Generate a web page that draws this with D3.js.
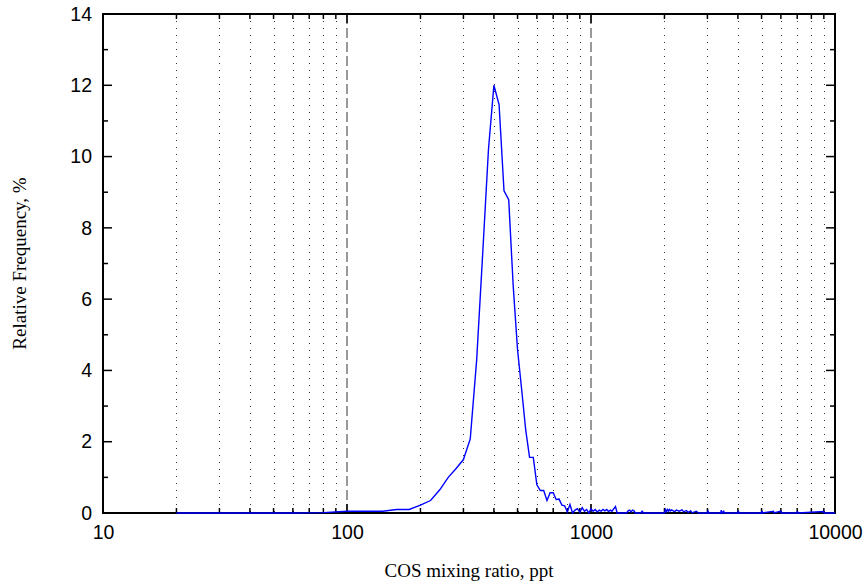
<!DOCTYPE html>
<html>
<head>
<meta charset="utf-8">
<script src="https://cdn.jsdelivr.net/npm/d3@7"></script>
<style>
body { margin: 0; background: #fff; }
svg { display: block; }
</style>
</head>
<body>
<svg width="866" height="584"></svg>
<script>
// COS mixing ratio (ppt), bin positions
var ppt = [20, 40, 60, 80, 100, 120, 140, 160, 180, 200,
  220, 240, 260, 280, 300, 320, 340, 360, 380, 400,
  420, 440, 460, 480, 500, 520, 540, 560, 580, 600,
  620, 640, 660, 680, 700, 720, 740, 760, 780, 800,
  820, 840, 860, 880, 900, 920, 940, 960, 980, 1000,
  1020, 1040, 1060, 1080, 1100, 1120, 1140, 1160, 1180, 1200,
  1220, 1240, 1260, 1280, 1400, 1420, 1440, 1460, 1480, 1500,
  1520, 1600, 1620, 1640, 2000, 2020, 2040, 2060, 2080, 2100,
  2120, 2140, 2200, 2240, 2300, 2360, 2400, 2460, 2500, 2560,
  2600, 2700, 2760, 3000, 3020, 3040, 3400, 3420, 3440, 3500,
  3520, 4000, 4020, 4040, 5000, 5020, 5040, 5600, 5620, 6000,
  6020, 7000, 7020, 7040, 9000, 9020, 10000];

// relative frequency, %
var freq = [0, 0, 0, 0.01, 0.05, 0.05, 0.05, 0.1, 0.1, 0.22,
  0.35, 0.65, 1.0, 1.25, 1.5, 2.08, 4.3, 7.3, 10.2, 12.0,
  11.46, 9.04, 8.79, 6.36, 4.58, 3.45, 2.33, 1.56, 1.56, 0.79,
  0.63, 0.63, 0.35, 0.57, 0.57, 0.38, 0.39, 0.22, 0.2, 0.03,
  0.24, 0.0, 0.08, 0.12, 0.02, 0.15, 0.05, 0.1, 0.0, 0.12,
  0.05, 0.1, 0.03, 0.08, 0.05, 0.1, 0.06, 0.1, 0.04, 0.08,
  0.05, 0.12, 0.18, 0, 0, 0.06, 0.08, 0.03, 0.08, 0.06,
  0, 0, 0.05, 0, 0, 0.1, 0.04, 0.1, 0.05, 0.1,
  0.06, 0.09, 0.04, 0.08, 0.05, 0.09, 0.03, 0.07, 0.02, 0.06,
  0, 0.05, 0, 0, 0.05, 0, 0, 0.08, 0, 0.05,
  0, 0, 0.06, 0, 0, 0.06, 0, 0.05, 0, 0.05,
  0, 0, 0.05, 0, 0.04, 0, 0];

var xMajor = [10, 100, 1000, 10000];
var xMinor = [20, 30, 40, 50, 60, 70, 80, 90,
  200, 300, 400, 500, 600, 700, 800, 900,
  2000, 3000, 4000, 5000, 6000, 7000, 8000, 9000];
var yMajor = [0, 2, 4, 6, 8, 10, 12, 14];
var yMinor = [1, 3, 5, 7, 9, 11, 13];

var svg = d3.select("svg"),
    margin = {top: 14, right: 31, bottom: 71, left: 103},
    width = +svg.attr("width") - margin.left - margin.right,
    height = +svg.attr("height") - margin.top - margin.bottom;

var x = d3.scaleLog().domain([10, 10000]).range([0, width]),
    y = d3.scaleLinear().domain([0, 14]).range([height, 0]);

var g = svg.append("g").attr("transform", "translate(" + margin.left + "," + margin.top + ")");

// dotted grid
g.selectAll(".grid")
  .data(xMinor)
  .enter().append("line")
  .attr("x1", function(d) { return Math.round(x(d)) + 0.5; })
  .attr("x2", function(d) { return Math.round(x(d)) + 0.5; })
  .attr("y1", 0)
  .attr("y2", height)
  .attr("stroke", "#333")
  .attr("stroke-width", 1)
  .attr("stroke-dasharray", "1,6");

// dashed lines at 100 and 1000
g.selectAll(".dash")
  .data([100, 1000])
  .enter().append("line")
  .attr("x1", function(d) { return x(d); })
  .attr("x2", function(d) { return x(d); })
  .attr("y1", 0)
  .attr("y2", height)
  .attr("stroke", "#808080")
  .attr("stroke-width", 1.6)
  .attr("stroke-dasharray", "10,4");

// inward ticks
function ticksX(vals, len, yPos, dir) {
  g.selectAll(null)
    .data(vals)
    .enter().append("line")
    .attr("x1", function(d) { return x(d); })
    .attr("x2", function(d) { return x(d); })
    .attr("y1", yPos)
    .attr("y2", yPos + dir * len)
    .attr("stroke", "#000")
    .attr("stroke-width", 1.5);
}
function ticksY(vals, len, xPos, dir) {
  g.selectAll(null)
    .data(vals)
    .enter().append("line")
    .attr("y1", function(d) { return y(d); })
    .attr("y2", function(d) { return y(d); })
    .attr("x1", xPos)
    .attr("x2", xPos + dir * len)
    .attr("stroke", "#000")
    .attr("stroke-width", 1.5);
}
ticksX(xMajor, 9, height, -1);
ticksX(xMinor, 5, height, -1);
ticksX(xMajor, 9, 0, 1);
ticksX(xMinor, 5, 0, 1);
ticksY(yMajor, 9, 0, 1);
ticksY(yMinor, 5, 0, 1);
ticksY(yMajor, 9, width, -1);
ticksY(yMinor, 5, width, -1);

// frame
g.append("rect")
  .attr("width", width)
  .attr("height", height)
  .attr("fill", "none")
  .attr("stroke", "#000")
  .attr("stroke-width", 2);

// data line (on top of the frame, like the original)
var data = ppt.map(function(d, i) { return {x: d, y: freq[i]}; });
var line = d3.line()
  .x(function(d) { return x(d.x); })
  .y(function(d) { return y(d.y); });

g.append("path")
  .datum(data)
  .attr("fill", "none")
  .attr("stroke", "#0000ff")
  .attr("stroke-width", 1.4)
  .attr("d", line);

// axes (labels only)
var xAxis = g.append("g")
  .attr("transform", "translate(0," + height + ")")
  .call(d3.axisBottom(x).tickValues(xMajor).tickFormat(d3.format("d")).tickSize(0).tickPadding(12));
var yAxis = g.append("g")
  .call(d3.axisLeft(y).tickValues(yMajor).tickSize(0).tickPadding(11));

[xAxis, yAxis].forEach(function(a) {
  a.select(".domain").remove();
  a.selectAll("text")
    .attr("font-family", "'Liberation Sans', Arial, sans-serif")
    .attr("font-size", "19.5px")
    .attr("fill", "#000");
});

svg.append("text")
  .attr("x", margin.left + width / 2)
  .attr("y", 577)
  .attr("text-anchor", "middle")
  .attr("font-family", "'Liberation Serif', 'Times New Roman', serif")
  .attr("font-size", "19px")
  .text("COS mixing ratio, ppt");

svg.append("text")
  .attr("transform", "translate(26," + (margin.top + height / 2) + ") rotate(-90)")
  .attr("text-anchor", "middle")
  .attr("font-family", "'Liberation Serif', 'Times New Roman', serif")
  .attr("font-size", "19px")
  .text("Relative Frequency, %");
</script>
</body>
</html>
